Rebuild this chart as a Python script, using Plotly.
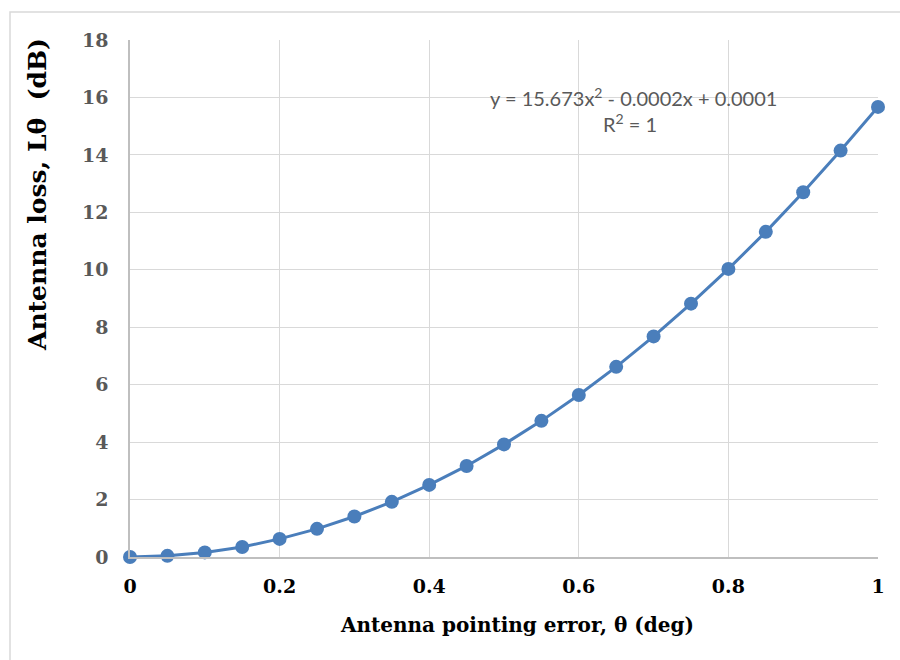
import plotly.graph_objects as go

pointing_error = [0.0, 0.05, 0.10, 0.15, 0.20, 0.25, 0.30, 0.35, 0.40, 0.45, 0.50,
                  0.55, 0.60, 0.65, 0.70, 0.75, 0.80, 0.85, 0.90, 0.95, 1.0]
antenna_loss = [0.0, 0.04, 0.16, 0.35, 0.63, 0.98, 1.41, 1.92, 2.51, 3.17, 3.92,
                4.74, 5.64, 6.62, 7.68, 8.82, 10.03, 11.32, 12.70, 14.15, 15.67]
x_ticks = [0, 0.2, 0.4, 0.6, 0.8, 1]
x_tick_labels = ["0", "0.2", "0.4", "0.6", "0.8", "1"]
y_ticks = [0, 2, 4, 6, 8, 10, 12, 14, 16, 18]

SERIF = "DejaVu Serif"
SANS = "Lato"
BLUE = "#4a7ebb"

fig = go.Figure()
fig.add_trace(go.Scatter(
    x=pointing_error, y=antenna_loss, mode="lines+markers",
    line=dict(color=BLUE, width=3),
    marker=dict(color=BLUE, size=14),
    cliponaxis=False,
    showlegend=False, hoverinfo="x+y"))

L, R, T, B = 130, 22, 40, 103
W, H = 900, 660
pw, ph = W - L - R, H - T - B

def px(x):
    return (x - L) / pw

def py(y):
    return (H - B - y) / ph

fig.update_layout(
    width=W, height=H,
    margin=dict(l=L, r=R, t=T, b=B, autoexpand=False),
    paper_bgcolor="white", plot_bgcolor="white",
    xaxis=dict(range=[0, 1], tickvals=x_ticks, ticktext=x_tick_labels,
               showgrid=True, gridcolor="#d9d9d9", gridwidth=1,
               showline=True, linecolor="#bfbfbf", linewidth=1.5,
               zeroline=False, ticks="outside", ticklen=11, tickcolor="rgba(0,0,0,0)",
               tickfont=dict(family=SERIF, size=19, color="black", weight="bold"),
               title=None),
    yaxis=dict(range=[0, 18], tickvals=y_ticks,
               showgrid=True, gridcolor="#d9d9d9", gridwidth=1,
               showline=True, linecolor="#bfbfbf", linewidth=1.5,
               zeroline=False, ticks="outside", ticklen=16, tickcolor="rgba(0,0,0,0)",
               tickfont=dict(family=SERIF, size=19, color="#595959", weight="bold"),
               title=None),
    shapes=[
        dict(type="rect", xref="paper", yref="paper",
             x0=px(10), x1=px(906), y0=py(672), y1=py(12),
             line=dict(color="#d9d9d9", width=1.5), layer="below"),
    ],
    annotations=[
        dict(text="Antenna pointing error, θ (deg)", xref="paper", yref="paper",
             x=px(517), y=py(625), showarrow=False, xanchor="center", yanchor="middle",
             font=dict(family=SERIF, size=20, color="black", weight="bold")),
        dict(text="Antenna loss, Lθ  (dB)", xref="paper", yref="paper",
             x=px(37), y=py(195), showarrow=False, textangle=-90,
             xanchor="center", yanchor="middle",
             font=dict(family=SERIF, size=25, color="black", weight="bold")),
        dict(text="y = 15.673x<sup>2</sup> - 0.0002x + 0.0001", xref="paper", yref="paper",
             x=px(633), y=py(97), showarrow=False, xanchor="center", yanchor="middle",
             font=dict(family=SANS, size=20, color="#595959")),
        dict(text="R<sup>2</sup> = 1", xref="paper", yref="paper",
             x=px(630), y=py(123), showarrow=False, xanchor="center", yanchor="middle",
             font=dict(family=SANS, size=20, color="#595959")),
    ],
)

fig.write_html("out.html", config={"displayModeBar": False},
               post_script="document.body.style.margin='0';")
